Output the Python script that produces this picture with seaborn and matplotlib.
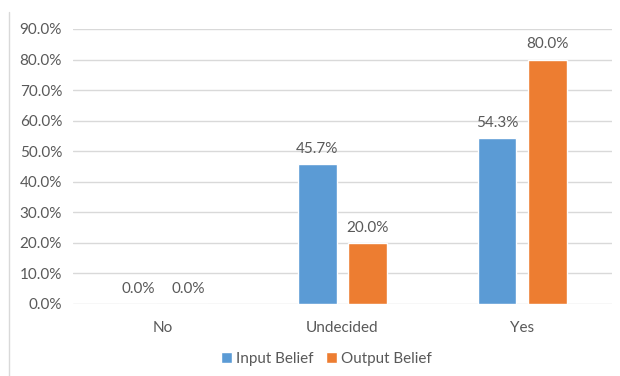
import matplotlib
matplotlib.use("Agg")
import matplotlib.pyplot as plt
import matplotlib.lines as mlines
import seaborn as sns
import pandas as pd
from matplotlib.ticker import PercentFormatter

categories = ["No", "Undecided", "Yes"]
series = ["Input Belief", "Output Belief"]
input_belief = [0.0, 45.7, 54.3]
output_belief = [0.0, 20.0, 80.0]
colors = ["#5B9BD5", "#ED7D31"]

df = pd.DataFrame({
    "category": categories * 2,
    "series": [series[0]] * 3 + [series[1]] * 3,
    "value": input_belief + output_belief,
})

sns.set_theme(style="white")
plt.rcParams["font.family"] = ["Lato", "DejaVu Sans"]
text_col = "#595959"
fs = 11

fig = plt.figure(figsize=(6.2, 3.76), dpi=100)
ax = fig.add_axes([0.118, 0.1915, 0.869, 0.7315])

sns.barplot(data=df, x="category", y="value", hue="series", order=categories,
            hue_order=series, palette=colors, width=0.56, gap=0.226,
            saturation=1, ax=ax, legend=True)

for cont in ax.containers:
    ax.bar_label(cont, fmt="%.1f%%", padding=6, fontsize=fs, color=text_col)

ax.set_ylim(0, 90)
ax.set_yticks(range(0, 91, 10))
ax.yaxis.set_major_formatter(PercentFormatter(decimals=1))
ax.set_xlim(-0.5, 2.5)
ax.grid(True, axis="y", color="#D9D9D9", lw=1)
ax.set_axisbelow(True)
for s in ax.spines.values():
    s.set_visible(False)
ax.set_xlabel("")
ax.set_ylabel("")
ax.tick_params(axis="both", length=0, labelsize=fs, colors=text_col)
ax.tick_params(axis="x", pad=12)
ax.tick_params(axis="y", pad=8)

handles, labels = ax.get_legend_handles_labels()
ax.legend(handles, labels, loc="center", bbox_to_anchor=(0.47, -0.2),
          ncol=2, frameon=False, fontsize=fs, handlelength=0.7,
          handleheight=0.7, handletextpad=0.3, columnspacing=0.8,
          labelcolor=text_col)

# chart border (left edge visible)
fig.add_artist(mlines.Line2D([9 / 620, 9 / 620], [0, 1 - 12 / 376],
                             color="#D9D9D9", lw=1, transform=fig.transFigure))

fig.savefig("out.png", dpi=100)
